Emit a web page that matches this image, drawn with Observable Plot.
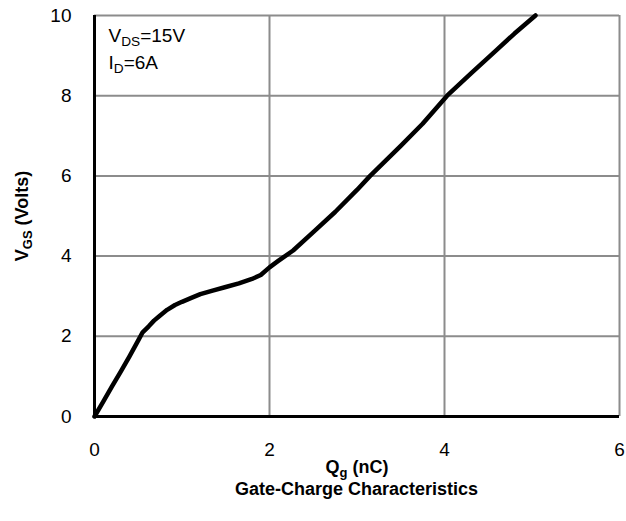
<!DOCTYPE html>
<html>
<head>
<meta charset="utf-8">
<script src="https://cdn.jsdelivr.net/npm/d3@7"></script>
<script src="https://cdn.jsdelivr.net/npm/@observablehq/plot@0.6"></script>
<style>
  html, body { margin: 0; padding: 0; background: #fff; }
  body { font-family: "Liberation Sans", Arial, sans-serif; width: 626px; height: 521px; overflow: hidden; }
  #caption { margin-left: 94px; width: 525px; text-align: center; font-weight: bold; font-size: 18px; line-height: 20px; color: #000; }
</style>
</head>
<body>
<div id="chart"></div>
<div id="caption">Gate-Charge Characteristics</div>
<script>
// Gate charge curve (Qg in nC, VGS in volts)
const qg  = [0, 0.1, 0.2, 0.3, 0.4, 0.5, 0.55, 0.62, 0.68, 0.75, 0.83, 0.92, 1.0, 1.1, 1.21, 1.35, 1.5, 1.65, 1.8, 1.9, 2.0, 2.1, 2.27, 2.5, 2.75, 3.0, 3.15, 3.5, 3.75, 4.03, 4.3, 4.6, 4.8, 5.04];
const vgs = [0, 0.37, 0.75, 1.12, 1.5, 1.9, 2.1, 2.25, 2.39, 2.52, 2.66, 2.78, 2.86, 2.95, 3.05, 3.14, 3.23, 3.32, 3.43, 3.53, 3.72, 3.88, 4.14, 4.6, 5.1, 5.65, 6.0, 6.75, 7.3, 8.0, 8.55, 9.15, 9.55, 10.0];
const xTicks = [0, 2, 4, 6];
const yTicks = [0, 2, 4, 6, 8, 10];
const annotations = ["V_{DS}=15V", "I_{D}=6A"];
const xLabel = "Q_{g} (nC)";
const yLabel = "V_{GS} (Volts)";

const curve = qg.map((q, i) => ({q, v: vgs[i]}));

const plot = Plot.plot({
  width: 626,
  height: 479,
  marginLeft: 94,
  marginRight: 7,
  marginTop: 15,
  marginBottom: 63,
  style: {fontFamily: "Liberation Sans, Arial, sans-serif", fontSize: "19px", color: "#000", background: "#fff", overflow: "visible"},
  x: {domain: [0, 6], ticks: xTicks, tickFormat: d => String(d), tickSize: 0, tickPadding: 26, label: null},
  y: {domain: [0, 10], ticks: yTicks, tickFormat: d => String(d), tickSize: 0, tickPadding: 23, label: null},
  marks: [
    Plot.ruleX(xTicks.filter(d => d !== 0), {stroke: "#8c8c8c", strokeWidth: 2}),
    Plot.ruleY(yTicks.filter(d => d !== 0), {stroke: "#8c8c8c", strokeWidth: 2}),
    Plot.ruleX([0], {stroke: "#000", strokeWidth: 3}),
    Plot.ruleY([0], {stroke: "#000", strokeWidth: 3}),
    Plot.line(curve, {x: "q", y: "v", stroke: "#000", strokeWidth: 4.5, strokeLinejoin: "round", strokeLinecap: "round"}),
    Plot.text([annotations[0]], {frameAnchor: "top-left", dx: 14, dy: 13, textAnchor: "start", lineAnchor: "top", fontSize: 19, fill: "#000"}),
    Plot.text([annotations[1]], {frameAnchor: "top-left", dx: 14, dy: 40, textAnchor: "start", lineAnchor: "top", fontSize: 19, fill: "#000"}),
    Plot.text([xLabel], {frameAnchor: "bottom", dy: 51, textAnchor: "middle", lineAnchor: "middle", fontSize: 18, fontWeight: "bold", fill: "#000"}),
    Plot.text([yLabel], {frameAnchor: "left", dx: -72, rotate: -90, textAnchor: "middle", lineAnchor: "middle", fontSize: 18, fontWeight: "bold", fill: "#000"})
  ]
});

// turn "_{...}" markers into subscript tspans
d3.select(plot).selectAll("text").each(function() {
  const t = this.textContent;
  if (!t.includes("_{")) return;
  const parts = t.split(/(_\{[^}]*\})/).filter(s => s.length);
  this.textContent = "";
  let shifted = false;
  for (const p of parts) {
    const ts = document.createElementNS("http://www.w3.org/2000/svg", "tspan");
    if (p.startsWith("_{")) {
      ts.textContent = p.slice(2, -1);
      ts.setAttribute("font-size", "0.72em");
      ts.setAttribute("dy", "0.3em");
      shifted = true;
    } else {
      ts.textContent = p;
      if (shifted) { ts.setAttribute("dy", "-0.22em"); shifted = false; }
    }
    this.appendChild(ts);
  }
});

document.getElementById("chart").appendChild(plot);
</script>
</body>
</html>
